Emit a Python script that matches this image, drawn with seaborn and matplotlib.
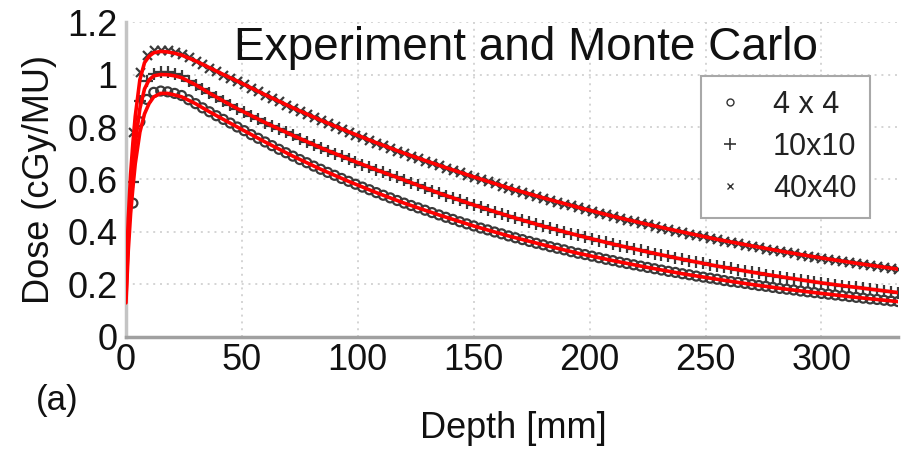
import matplotlib
matplotlib.use("Agg")
import matplotlib.pyplot as plt
from matplotlib.lines import Line2D
import seaborn as sns
import numpy as np

# measured depth doses (markers), every 3 mm
depth_meas = list(range(3, 334, 3))

dose_4x4 = [
    0.510, 0.820, 0.905, 0.932, 0.937, 0.934, 0.928, 0.920, 0.904, 0.889,
    0.873, 0.858, 0.843, 0.829, 0.815, 0.800, 0.786, 0.771, 0.757, 0.743,
    0.729, 0.715, 0.702, 0.689, 0.676, 0.664, 0.651, 0.639, 0.627, 0.616,
    0.604, 0.593, 0.582, 0.571, 0.561, 0.550, 0.540, 0.530, 0.520, 0.510,
    0.501, 0.492, 0.483, 0.474, 0.465, 0.456, 0.448, 0.439, 0.431, 0.423,
    0.415, 0.408, 0.400, 0.393, 0.385, 0.378, 0.371, 0.364, 0.357, 0.351,
    0.344, 0.338, 0.332, 0.325, 0.319, 0.314, 0.308, 0.302, 0.296, 0.291,
    0.285, 0.280, 0.275, 0.270, 0.265, 0.260, 0.255, 0.250, 0.246, 0.241,
    0.237, 0.232, 0.228, 0.224, 0.220, 0.215, 0.211, 0.208, 0.204, 0.200,
    0.196, 0.193, 0.189, 0.185, 0.182, 0.179, 0.175, 0.172, 0.169, 0.166,
    0.163, 0.160, 0.157, 0.154, 0.151, 0.148, 0.145, 0.143, 0.140, 0.137,
    0.135,
]

dose_10x10 = [
    0.590, 0.900, 0.975, 1.003, 1.010, 1.008, 1.002, 0.993, 0.977, 0.961,
    0.945, 0.929, 0.914, 0.899, 0.884, 0.870, 0.856, 0.843, 0.830, 0.817,
    0.805, 0.792, 0.780, 0.768, 0.756, 0.744, 0.733, 0.721, 0.710, 0.699,
    0.688, 0.678, 0.667, 0.657, 0.647, 0.637, 0.627, 0.617, 0.608, 0.598,
    0.588, 0.578, 0.568, 0.558, 0.548, 0.539, 0.530, 0.520, 0.511, 0.503,
    0.494, 0.485, 0.477, 0.469, 0.461, 0.453, 0.445, 0.437, 0.430, 0.422,
    0.415, 0.408, 0.401, 0.394, 0.387, 0.381, 0.374, 0.367, 0.361, 0.354,
    0.348, 0.342, 0.336, 0.330, 0.324, 0.318, 0.312, 0.307, 0.301, 0.296,
    0.291, 0.285, 0.280, 0.275, 0.270, 0.266, 0.261, 0.256, 0.252, 0.247,
    0.243, 0.238, 0.234, 0.230, 0.226, 0.222, 0.218, 0.214, 0.210, 0.206,
    0.203, 0.199, 0.196, 0.192, 0.189, 0.185, 0.182, 0.179, 0.176, 0.172,
    0.169,
]

dose_40x40 = [
    0.780, 1.010, 1.075, 1.092, 1.095, 1.093, 1.087, 1.079, 1.065, 1.052,
    1.039, 1.026, 1.013, 1.000, 0.988, 0.975, 0.962, 0.949, 0.936, 0.923,
    0.910, 0.898, 0.885, 0.873, 0.861, 0.849, 0.838, 0.826, 0.815, 0.804,
    0.793, 0.782, 0.771, 0.761, 0.750, 0.740, 0.730, 0.720, 0.710, 0.700,
    0.691, 0.681, 0.672, 0.663, 0.654, 0.645, 0.636, 0.627, 0.618, 0.610,
    0.601, 0.593, 0.585, 0.577, 0.568, 0.560, 0.553, 0.545, 0.537, 0.530,
    0.522, 0.515, 0.508, 0.501, 0.494, 0.487, 0.480, 0.473, 0.467, 0.460,
    0.454, 0.447, 0.441, 0.435, 0.429, 0.423, 0.417, 0.411, 0.405, 0.400,
    0.394, 0.388, 0.383, 0.378, 0.372, 0.367, 0.362, 0.357, 0.352, 0.347,
    0.342, 0.337, 0.333, 0.328, 0.323, 0.319, 0.314, 0.310, 0.306, 0.301,
    0.297, 0.293, 0.289, 0.285, 0.281, 0.277, 0.273, 0.269, 0.266, 0.262,
    0.258,
]

# Monte Carlo curves (red lines)
depth_mc = [0, 1, 2, 3, 4, 6, 8, 10, 12, 15, 18, 21, 24, 30, 36, 42, 48, 60,
            72, 84, 96, 108, 120, 135, 150, 165, 180, 195, 210, 225, 240, 255,
            270, 285, 300, 315, 335]
mc_4x4 = [0.13, 0.33, 0.47, 0.57, 0.66, 0.78, 0.85, 0.89, 0.915, 0.928, 0.928,
          0.922, 0.915, 0.889, 0.858, 0.829, 0.800, 0.743, 0.689, 0.639, 0.593,
          0.550, 0.510, 0.465, 0.423, 0.385, 0.351, 0.319, 0.291, 0.265, 0.241,
          0.220, 0.200, 0.182, 0.166, 0.151, 0.133]
mc_10x10 = [0.15, 0.38, 0.54, 0.65, 0.74, 0.87, 0.945, 0.98, 0.995, 1.0, 0.999,
            0.995, 0.988, 0.961, 0.929, 0.899, 0.870, 0.817, 0.768, 0.721, 0.678,
            0.637, 0.598, 0.548, 0.503, 0.461, 0.422, 0.387, 0.354, 0.324, 0.296,
            0.270, 0.247, 0.226, 0.206, 0.189, 0.167]
mc_40x40 = [0.20, 0.45, 0.62, 0.74, 0.84, 0.98, 1.045, 1.07, 1.083, 1.088, 1.086,
            1.081, 1.074, 1.052, 1.026, 1.000, 0.975, 0.923, 0.873, 0.826, 0.782,
            0.740, 0.700, 0.654, 0.610, 0.568, 0.530, 0.494, 0.460, 0.429, 0.400,
            0.372, 0.347, 0.323, 0.301, 0.281, 0.256]

field_labels = ["4 x 4", "10x10", "40x40"]
x_ticks = [0, 50, 100, 150, 200, 250, 300]
y_ticks = [0, 0.2, 0.4, 0.6, 0.8, 1.0, 1.2]
y_ticklabels = ["0", "0.2", "0.4", "0.6", "0.8", "1", "1.2"]

sns.set_theme(style="white")
plt.rcParams['font.family'] = ['Liberation Sans', 'DejaVu Sans']

fig = plt.figure(figsize=(9.01, 4.51), dpi=100)
ax = fig.add_axes([0.1398, 0.2528, 0.8568, 0.6984])

mcol = "#3a3a3a"
sns.scatterplot(x=depth_meas, y=dose_4x4, marker="o", s=42, facecolor="none",
                edgecolor=mcol, linewidth=1.6, ax=ax, zorder=2)
sns.scatterplot(x=depth_meas, y=dose_10x10, marker="+", s=80, color=mcol,
                linewidth=1.6, ax=ax, zorder=2)
sns.scatterplot(x=depth_meas, y=dose_40x40, marker="x", s=42, color=mcol,
                linewidth=1.6, ax=ax, zorder=2)

for mc in [mc_4x4, mc_10x10, mc_40x40]:
    sns.lineplot(x=depth_mc, y=mc, color="red", linewidth=2.6, ax=ax,
                 zorder=3, sort=False)

ax.set_xlim(0, 333)
ax.set_ylim(0, 1.2)
ax.set_xticks(x_ticks)
ax.set_yticks(y_ticks)
ax.set_yticklabels(y_ticklabels)
ax.tick_params(axis="both", labelsize=26, direction="in", length=4,
               color="#a0a0a0", pad=4, labelcolor="#111111")
ax.tick_params(axis="y", pad=6)

ax.grid(True, linestyle=(0, (1, 2.5)), color="#d4d4d4", linewidth=1.4)
for s in ["top", "right"]:
    ax.spines[s].set_visible(False)
ax.spines["left"].set_color("#c4c4c4")
ax.spines["left"].set_linewidth(2.5)
ax.spines["bottom"].set_color("#a0a0a0")
ax.spines["bottom"].set_linewidth(2.5)

ax.set_xlabel("Depth [mm]", fontsize=26, color="#111111")
ax.set_ylabel("Dose (cGy/MU)", fontsize=26, color="#111111")
ax.xaxis.set_label_coords(0.502, -0.235)
ax.yaxis.set_label_coords(-0.089, 0.5)

ax.text(0.518, 0.879, "Experiment and Monte Carlo", transform=ax.transAxes,
        ha="center", va="baseline", fontsize=33, color="#111111")
fig.text(0.063, 0.113, "(a)", ha="center", va="center", fontsize=25,
         color="#111111")

handles = [
    Line2D([], [], marker="o", ls="none", mfc="none", mec="#333333", ms=5, mew=1),
    Line2D([], [], marker="+", ls="none", color="#333333", ms=8, mew=1.2),
    Line2D([], [], marker="x", ls="none", color="#333333", ms=5, mew=1),
]
leg = ax.legend(handles, field_labels, loc="upper right",
                bbox_to_anchor=(0.964, 0.829), fontsize=22, frameon=True,
                fancybox=False, edgecolor="#a8a8a8", framealpha=1,
                handletextpad=0.9, labelspacing=0.4, borderpad=0.45,
                handlelength=1.0, borderaxespad=0)
leg.get_frame().set_linewidth(1.5)
for t in leg.get_texts():
    t.set_color("#222222")

fig.savefig("out.png", dpi=100)
